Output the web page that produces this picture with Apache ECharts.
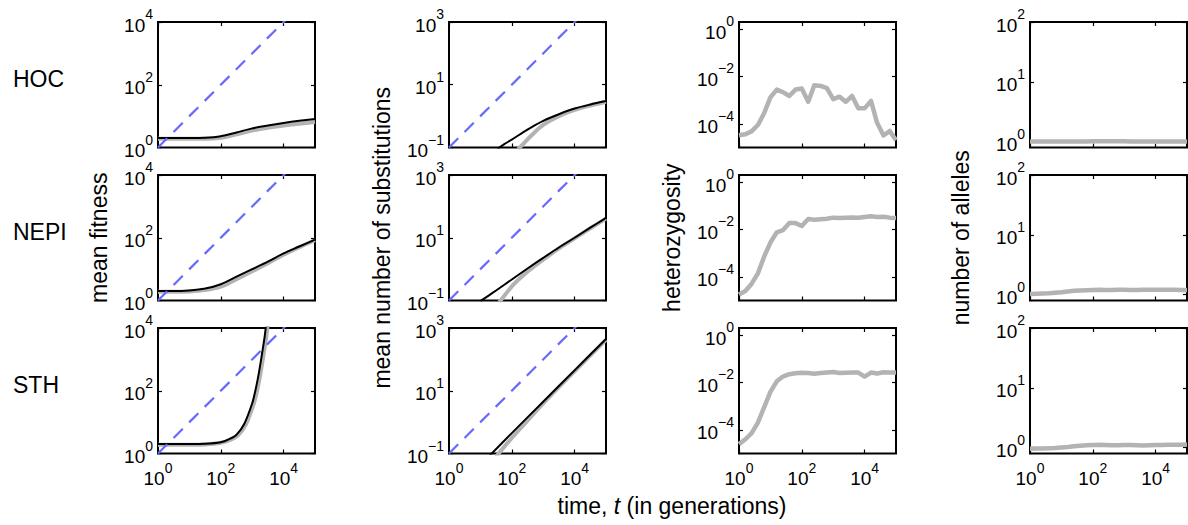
<!DOCTYPE html>
<html><head><meta charset="utf-8">
<script src="https://cdn.jsdelivr.net/npm/echarts@6/dist/echarts.min.js"></script>
<style>html,body{margin:0;padding:0;background:#fff}#c{width:1188px;height:525px}</style>
</head><body><div id="c"></div><script>
// ---------- data ----------
const rowNames = ['HOC', 'NEPI', 'STH'];
const colTitles = ['mean fitness', 'mean number of substitutions', 'heterozygosity', 'number of alleles'];
const xTickValues = [1, 100, 10000];
const yTickValues = [[1, 100, 10000], [0.1, 10, 1000], [1e-4, 1e-2, 1], [1, 10, 100]];
const xRange = [1, 100000];
const yRanges = [[1, 10000], [0.1, 1000], [1e-5, 2], [0.8, 100]];

// dashed reference lines (slope 1)
const refT = [1, 100000];
const refFitness = [1, 100000];
const refSubst = [0.1, 10000];

// mean fitness
const fitHOC_t = [1, 3.16, 10, 31.6, 100, 316, 1000, 3160, 10000, 31600, 100000];
const fitHOC_theory = [2.0, 2.0, 2.0, 2.04, 2.29, 3.02, 4.07, 5.01, 6.03, 7.08, 8.13];
const fitHOC_sim = [1.91, 1.91, 1.91, 1.91, 2.04, 2.63, 3.47, 4.27, 5.01, 5.75, 6.46];
const fitNEPI_t = [1, 3.16, 10, 31.6, 100, 316, 1000, 3160, 10000, 31600, 100000];
const fitNEPI_theory = [2.0, 2.0, 2.09, 2.40, 3.31, 5.75, 10.0, 17.4, 31.6, 52.5, 87.1];
const fitNEPI_sim = [1.91, 1.91, 1.95, 2.14, 2.75, 4.79, 8.51, 15.5, 28.8, 50.1, 83.2];
const fitSTH_t = [1, 3.16, 10, 31.6, 100, 178, 316, 562, 1000, 1259, 1585, 1995, 2512, 2818];
const fitSTH_theory = [2.0, 2.0, 2.0, 2.04, 2.29, 2.82, 3.98, 8.91, 39.8, 100, 316, 1259, 5623, 15849];
const fitSTH_sim_t = [1, 3.16, 10, 31.6, 100, 200, 355, 630, 1120, 1410, 1775, 2235, 2815, 3160];
const fitSTH_sim = [1.91, 1.91, 1.91, 1.95, 2.2, 2.7, 3.8, 8.5, 38, 95, 300, 1200, 5400, 15000];

// mean number of substitutions
const subHOC_theory_t = [35.5, 56.2, 100, 316, 1000, 3162, 10000, 31623, 100000];
const subHOC_theory = [0.091, 0.126, 0.178, 0.372, 0.708, 1.15, 1.74, 2.34, 3.02];
const subHOC_sim_t = [158, 251, 398, 1000, 3162, 10000, 31623, 100000];
const subHOC_sim = [0.089, 0.141, 0.229, 0.525, 1.0, 1.58, 2.19, 2.88];
const subNEPI_theory_t = [10, 17.8, 31.6, 100, 316, 1000, 3162, 10000, 31623, 100000];
const subNEPI_theory = [0.095, 0.141, 0.209, 0.468, 1.05, 2.29, 4.9, 10, 20.9, 42.7];
const subNEPI_sim_t = [39.8, 63.1, 100, 178, 316, 1000, 3162, 10000, 31623, 100000];
const subNEPI_sim = [0.089, 0.158, 0.282, 0.501, 0.832, 2.0, 4.57, 9.55, 20.0, 40.7];
const subSTH_theory_t = [20, 100, 1000, 10000, 100000];
const subSTH_theory = [0.087, 0.447, 4.47, 44.7, 447];
const subSTH_sim_t = [31.6, 100, 316, 1000, 10000, 100000];
const subSTH_sim = [0.079, 0.316, 1.12, 3.98, 41.7, 417];

// heterozygosity and number of alleles (simulation samples)
const sampleT = [1, 1.6, 2.5, 4, 6.3, 10, 16, 25, 40, 63, 100, 160, 250, 400, 630, 1000, 1600, 2500, 4000, 6300, 10000, 16000, 25000, 40000, 63000, 100000];
const hetHOC = [3.3e-5, 3.6e-5, 4.8e-5, 8.9e-5, 2.8e-4, 1.3e-3, 2.8e-3, 2.2e-3, 1.5e-3, 2.8e-3, 3.1e-3, 8.5e-4, 4.3e-3, 4.0e-3, 3.2e-3, 1.1e-3, 1.4e-3, 8.5e-4, 1.5e-3, 4.5e-4, 4.5e-4, 9.3e-4, 1.1e-4, 3.2e-5, 5.0e-5, 2.0e-5];
const hetNEPI = [1.8e-5, 2.5e-5, 5.0e-5, 1.4e-4, 7.1e-4, 2.8e-3, 7.6e-3, 9.3e-3, 1.86e-2, 1.86e-2, 1.41e-2, 2.75e-2, 2.57e-2, 2.69e-2, 2.82e-2, 3.16e-2, 3.02e-2, 3.16e-2, 3.24e-2, 3.16e-2, 3.39e-2, 3.63e-2, 3.39e-2, 3.47e-2, 3.16e-2, 3.09e-2];
const hetSTH = [2.5e-5, 4.0e-5, 7.1e-5, 2.0e-4, 8.9e-4, 4.0e-3, 1.12e-2, 1.78e-2, 2.24e-2, 2.45e-2, 2.57e-2, 2.51e-2, 2.34e-2, 2.51e-2, 2.63e-2, 2.75e-2, 2.51e-2, 2.57e-2, 2.63e-2, 2.63e-2, 1.78e-2, 2.63e-2, 2.4e-2, 2.69e-2, 2.63e-2, 2.63e-2];
const allHOC = [1.01, 1.01, 1.01, 1.01, 1.01, 1.01, 1.01, 1.01, 1.01, 1.01, 1.02, 1.02, 1.02, 1.02, 1.02, 1.02, 1.01, 1.01, 1.01, 1.01, 1.01, 1.01, 1.01, 1.01, 1.01, 1.01];
const allNEPI = [1.03, 1.04, 1.05, 1.06, 1.08, 1.10, 1.13, 1.16, 1.18, 1.19, 1.20, 1.21, 1.20, 1.20, 1.21, 1.21, 1.20, 1.20, 1.21, 1.21, 1.21, 1.21, 1.21, 1.21, 1.20, 1.20];
const allSTH = [0.96, 0.97, 0.97, 0.98, 0.99, 1.01, 1.03, 1.06, 1.08, 1.10, 1.11, 1.12, 1.11, 1.10, 1.10, 1.11, 1.11, 1.10, 1.09, 1.10, 1.11, 1.11, 1.12, 1.12, 1.12, 1.13];

// ---------- layout & style ----------
const FONT = '"Liberation Sans", Arial, Helvetica, sans-serif';
const colLeft = [158, 449, 739, 1030];
const rowTop = [22, 175, 328];
const cellW = 157, cellH = 125.5;
const GRAY = '#b3b3b3', BLACK = '#000000', BLUE = '#6868ff';

function pairs(t, y) { return t.map((v, i) => [v, y[i]]); }
function sup(v) {
  const e = Math.round(Math.log10(v));
  const s = e < 0 ? '\u2212' + (-e) : String(e);
  return '{b|10}{e|' + s + '}';
}
const richLabel = {
  b: { fontSize: 19, lineHeight: 20, fontFamily: FONT, color: '#000' },
  e: { fontSize: 14, lineHeight: 14, padding: [0, 0, 22, 0], fontFamily: FONT, color: '#000' }
};

// which series per cell
const cells = [
  [ // HOC
    [['sim', fitHOC_t, fitHOC_sim], ['theory', fitHOC_t, fitHOC_theory], ['ref', refT, refFitness]],
    [['sim', subHOC_sim_t, subHOC_sim], ['theory', subHOC_theory_t, subHOC_theory], ['ref', refT, refSubst]],
    [['het', sampleT, hetHOC]],
    [['het', sampleT, allHOC]]
  ],
  [ // NEPI
    [['sim', fitNEPI_t, fitNEPI_sim], ['theory', fitNEPI_t, fitNEPI_theory], ['ref', refT, refFitness]],
    [['sim', subNEPI_sim_t, subNEPI_sim], ['theory', subNEPI_theory_t, subNEPI_theory], ['ref', refT, refSubst]],
    [['het', sampleT, hetNEPI]],
    [['het', sampleT, allNEPI]]
  ],
  [ // STH
    [['sim', fitSTH_sim_t, fitSTH_sim], ['theory', fitSTH_t, fitSTH_theory], ['ref', refT, refFitness]],
    [['sim', subSTH_sim_t, subSTH_sim], ['theory', subSTH_theory_t, subSTH_theory], ['ref', refT, refSubst]],
    [['het', sampleT, hetSTH]],
    [['het', sampleT, allSTH]]
  ]
];

const grid = [], xAxis = [], yAxis = [], series = [];
for (let r = 0; r < 3; r++) {
  for (let c = 0; c < 4; c++) {
    const g = grid.length;
    grid.push({ left: colLeft[c], top: rowTop[r], width: cellW, height: cellH,
      show: true, borderColor: '#000', borderWidth: 2, backgroundColor: 'transparent' });
    const tickBase = { show: true, inside: true, length: 4, lineStyle: { color: '#000', width: 1.2 } };
    xAxis.push({ type: 'log', gridIndex: g, position: 'bottom', min: xRange[0], max: xRange[1],
      axisLine: { show: false }, splitLine: { show: false },
      axisTick: Object.assign({ customValues: xTickValues }, tickBase),
      axisLabel: { show: r === 2, customValues: xTickValues, margin: 15, formatter: sup, rich: richLabel } });
    xAxis.push({ type: 'log', gridIndex: g, position: 'top', min: xRange[0], max: xRange[1],
      axisLine: { show: false }, splitLine: { show: false },
      axisTick: Object.assign({ customValues: xTickValues }, tickBase),
      axisLabel: { show: false } });
    yAxis.push({ type: 'log', gridIndex: g, position: 'left', min: yRanges[c][0], max: yRanges[c][1],
      axisLine: { show: false }, splitLine: { show: false },
      axisTick: Object.assign({ customValues: yTickValues[c] }, tickBase),
      axisLabel: { show: true, customValues: yTickValues[c], margin: 5, padding: [6, 0, 0, 0], formatter: sup, rich: richLabel } });
    yAxis.push({ type: 'log', gridIndex: g, position: 'right', min: yRanges[c][0], max: yRanges[c][1],
      axisLine: { show: false }, splitLine: { show: false },
      axisTick: Object.assign({ customValues: yTickValues[c] }, tickBase),
      axisLabel: { show: false } });
    cells[r][c].forEach(([kind, t, y]) => {
      let lineStyle, smooth = 0;
      if (kind === 'sim') { lineStyle = { color: GRAY, width: 4 }; smooth = 0.3; }
      else if (kind === 'theory') { lineStyle = { color: BLACK, width: 2 }; smooth = 0.3; }
      else if (kind === 'ref') { lineStyle = { color: BLUE, width: 2.2, type: [13, 9] }; }
      else { lineStyle = { color: GRAY, width: 4.5, join: 'round' }; }
      series.push({ type: 'line', xAxisIndex: 2 * g, yAxisIndex: 2 * g, data: pairs(t, y),
        showSymbol: false, symbol: 'none', smooth: smooth, clip: true, silent: true,
        lineStyle: lineStyle, emphasis: { disabled: true } });
    });
  }
}

const rowCenters = rowTop.map(t => t + cellH / 2);
const graphic = [];
rowNames.forEach((n, i) => graphic.push({ type: 'text', left: 13, top: rowCenters[i] - 4 - 13,
  style: { text: n, fontSize: 23, fontFamily: FONT, fill: '#000' } }));
const titleX = [99, 382, 672, 961];
colTitles.forEach((t, i) => graphic.push({ type: 'text', x: titleX[i], y: rowCenters[1], rotation: Math.PI / 2,
  style: { text: t, fontSize: 23, fontFamily: FONT, fill: '#000', align: 'center', verticalAlign: 'middle' } }));
graphic.push({ type: 'text', x: 672, y: 506,
  style: { text: '{n|time, }{i|t}{n| (in generations)}', align: 'center', verticalAlign: 'middle',
    rich: { n: { fontSize: 23, fontFamily: FONT, fill: '#000' }, i: { fontSize: 23, fontFamily: FONT, fontStyle: 'italic', fill: '#000' } } } });

const chart = echarts.init(document.getElementById('c'), null, { renderer: 'svg' });
chart.setOption({ animation: false, backgroundColor: '#fff', grid, xAxis, yAxis, series, graphic });
</script></body></html>
